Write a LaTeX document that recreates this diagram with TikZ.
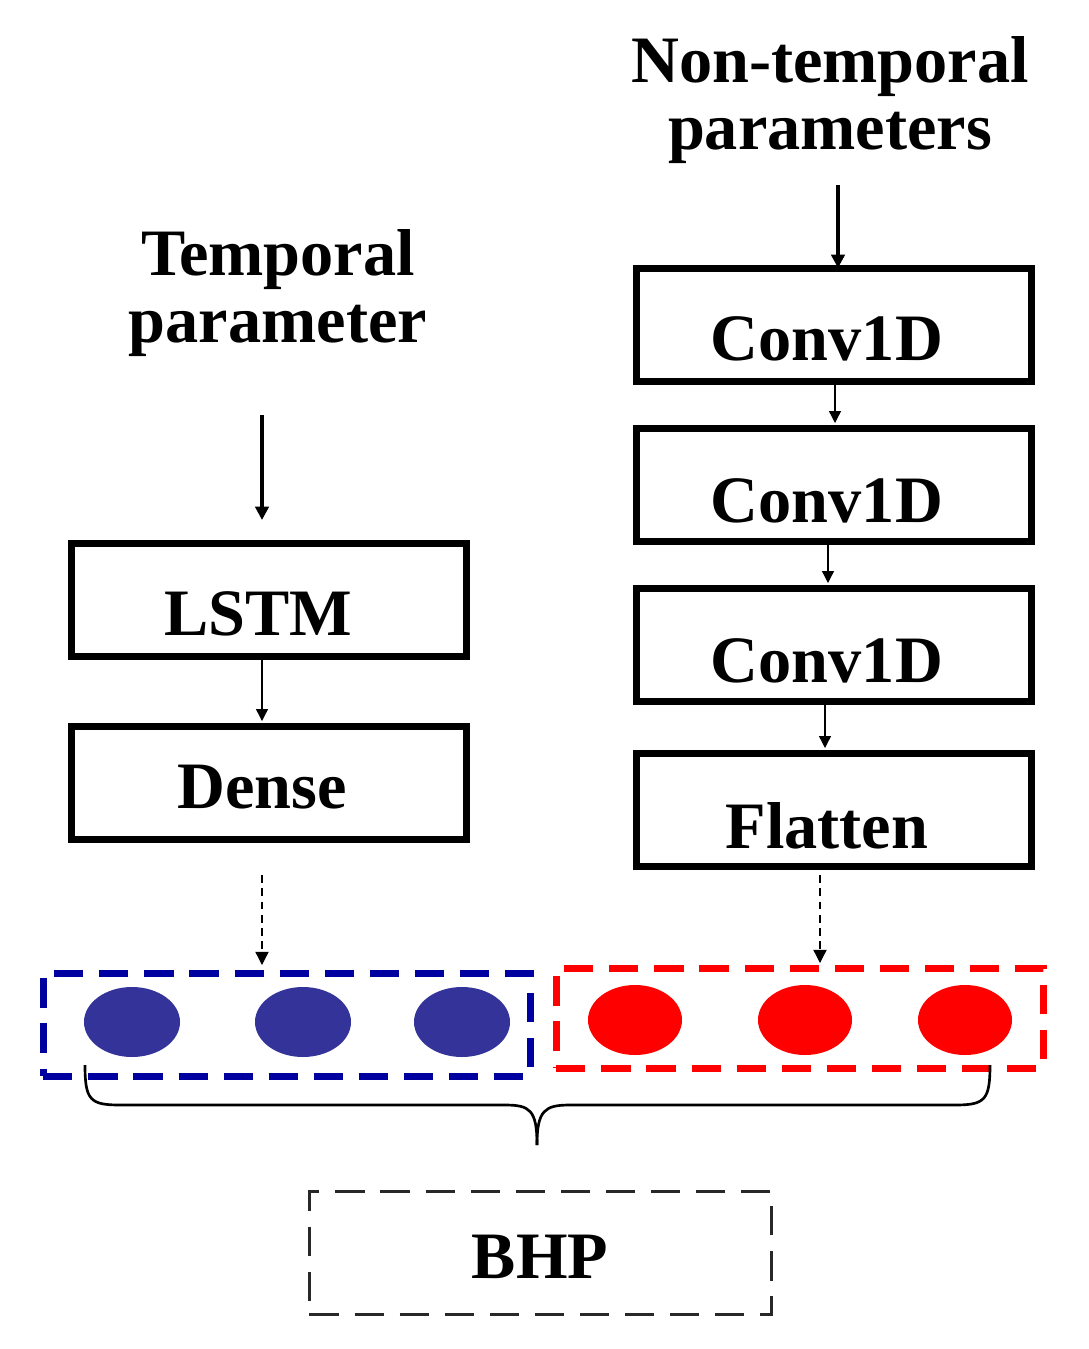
\documentclass[tikz,border=0pt]{standalone}
\usepackage{fontspec}
\setmainfont{Liberation Serif}
\usetikzlibrary{arrows.meta}
\begin{document}
\begin{tikzpicture}[x=0.0265cm,y=-0.0265cm,
 txt/.style={font=\fontsize{50}{60}\selectfont\bfseries,align=center},
 box/.style={draw,line width=5pt,minimum width=395*0.0265cm,minimum height=113*0.0265cm,anchor=north west,inner sep=0pt},
 lab/.style={font=\fontsize{50}{60}\selectfont\bfseries,anchor=base},
 thk/.style={line width=2.6pt,-{Triangle[length=10pt,width=10pt]}},
 thn/.style={line width=1pt,-{Triangle[length=9pt,width=9pt]}},
 dsh/.style={line width=1pt,dash pattern=on 6pt off 4pt,-{Triangle[length=10pt,width=10pt]}}]
\useasboundingbox (0,0) rectangle (1089,1349);
\node[txt] (nt) at (830,100) {Non-temporal\\[-10pt]parameters};
\node[txt] (tp) at (278,293) {Temporal\\[-10pt]parameter};
\node[box] (c1) at (633,265) {}; \node[lab] at (827,360) {Conv1D};
\node[box] (c2) at (633,425) {}; \node[lab] at (827,522) {Conv1D};
\node[box] (c3) at (633,585) {}; \node[lab] at (827,682) {Conv1D};
\node[box] (fl) at (633,750) {}; \node[lab] at (827,848) {Flatten};
\node[box] (ls) at (68,540) {}; \node[lab] at (258,635) {LSTM};
\node[box] (de) at (68,723) {}; \node[lab] at (262,808) {Dense};
\coordinate (a1) at (838,185); \coordinate (a2) at (838,268);
\draw[thk] (a1) -- (a2);
\coordinate (b1) at (262,415); \coordinate (b2) at (262,520);
\draw[thk] (b1) -- (b2);
\draw[thn] (835,380) -- (835,423);
\draw[thn] (828,542) -- (828,583);
\draw[thn] (825,702) -- (825,748);
\draw[thn] (262,657) -- (262,721);
\draw[dsh] (262,875) -- (262,965);
\draw[dsh] (820,875) -- (820,963);
\node[draw={rgb,255:red,0;green,0;blue,160},line width=5pt,dash pattern=on 22pt off 12pt,minimum width=487*0.0265cm,minimum height=103*0.0265cm,anchor=north west] (blue) at (40,970) {};
\node[draw=red,line width=5pt,dash pattern=on 22pt off 12pt,minimum width=487*0.0265cm,minimum height=100*0.0265cm,anchor=north west] (redb) at (553,965) {};
\foreach \x in {132,303,462}{\fill[fill={rgb,255:red,51;green,51;blue,153}] (\x,1022) ellipse [x radius=48,y radius=35];}
\foreach \x in {635,805,965}{\fill[red] (\x,1020) ellipse [x radius=47,y radius=35];}
\draw[line width=2pt] (85,1065) .. controls (85,1100) and (90,1105) .. (120,1105) -- (505,1105) .. controls (530,1105) and (537,1110) .. (537,1145);
\draw[line width=2pt] (990,1065) .. controls (990,1100) and (985,1105) .. (955,1105) -- (570,1105) .. controls (545,1105) and (537,1110) .. (537,1145);
\node[draw={rgb,255:red,40;green,40;blue,40},line width=2.2pt,dash pattern=on 22pt off 12pt,minimum width=462*0.0265cm,minimum height=123*0.0265cm,anchor=north west] (bhp) at (308,1190) {};
\node[lab] at (540,1278) {BHP};
\end{tikzpicture}
\end{document}
